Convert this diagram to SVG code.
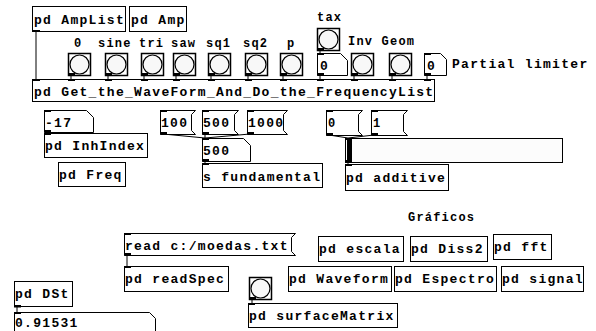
<svg xmlns="http://www.w3.org/2000/svg" width="596" height="331" viewBox="0 0 596 331">
<style>
.b{fill:#fff;stroke:#000;stroke-width:1}
.t{font-family:"Liberation Mono","DejaVu Sans Mono",monospace;font-weight:bold;font-size:13px;letter-spacing:1.3px;fill:#000}
.l{font-family:"Liberation Mono","DejaVu Sans Mono",monospace;font-weight:bold;font-size:12px;letter-spacing:1.2px;fill:#000}
.io{fill:#000}
.c{stroke:#000;stroke-width:1;fill:none}
.bg{fill:#fff;stroke:#000;stroke-width:1.5}
.bc{fill:#f8f8f8;stroke:#000;stroke-width:1.2}
</style>
<rect width="596" height="331" fill="#fff"/>
<g id="connectors">
<line class="c" x1="36" y1="32" x2="36" y2="79"/>
<line class="c" x1="71" y1="75" x2="71" y2="79"/>
<line class="c" x1="108" y1="75" x2="108" y2="79"/>
<line class="c" x1="144" y1="75" x2="144" y2="79"/>
<line class="c" x1="176" y1="75" x2="176" y2="79"/>
<line class="c" x1="211" y1="75" x2="211" y2="79"/>
<line class="c" x1="248" y1="75" x2="248" y2="79"/>
<line class="c" x1="283" y1="75" x2="283" y2="79"/>
<line class="c" x1="320" y1="50" x2="320" y2="53"/>
<line class="c" x1="320" y1="75" x2="320" y2="79"/>
<line class="c" x1="354" y1="75" x2="354" y2="79"/>
<line class="c" x1="392" y1="75" x2="392" y2="79"/>
<line class="c" x1="427" y1="75" x2="427" y2="79"/>
<line class="c" x1="47" y1="132" x2="47" y2="133"/>
<line class="c" x1="163" y1="134" x2="205" y2="138"/>
<line class="c" x1="205" y1="134" x2="205" y2="138"/>
<line class="c" x1="250" y1="134" x2="205" y2="138"/>
<line class="c" x1="205" y1="161" x2="205" y2="163"/>
<line class="c" x1="329" y1="135" x2="348" y2="138"/>
<line class="c" x1="374" y1="135" x2="348" y2="138"/>
<line class="c" x1="348" y1="162" x2="348" y2="164"/>
<line class="c" x1="127" y1="256" x2="127" y2="266"/>
<line class="c" x1="252" y1="299" x2="252" y2="303"/>
<line class="c" x1="17" y1="307" x2="17" y2="312"/>
</g>
<g id="ampList"><rect class="b" x="32.5" y="6.5" width="93" height="25"/><rect class="io" x="33" y="30" width="7" height="2"/><text class="t" x="34" y="24">pd AmpList</text></g>
<g id="amp"><rect class="b" x="129.5" y="6.5" width="57" height="25"/><text class="t" x="131" y="24">pd Amp</text></g>
<g id="labels">
<text class="l" x="74" y="47">0</text>
<text class="l" x="98" y="47">sine</text>
<text class="l" x="139" y="47">tri</text>
<text class="l" x="171" y="47">saw</text>
<text class="l" x="206" y="47">sq1</text>
<text class="l" x="243" y="47">sq2</text>
<text class="l" x="287" y="47">p</text>
<text class="l" x="317" y="21">tax</text>
<text class="l" x="348" y="45">Inv Geom</text>
<text class="t" x="452" y="68">Partial limiter</text>
<text class="l" x="408" y="221">Gráficos</text>
</g>
<g id="bang0"><rect class="bg" x="68.5" y="53.5" width="22" height="22"/><circle class="bc" cx="79.5" cy="64.5" r="9.5"/><rect class="io" x="68" y="73" width="7" height="2.5"/></g>
<g id="bangSine"><rect class="bg" x="105.5" y="53.5" width="22" height="22"/><circle class="bc" cx="116.5" cy="64.5" r="9.5"/><rect class="io" x="105" y="73" width="7" height="2.5"/></g>
<g id="bangTri"><rect class="bg" x="141.5" y="53.5" width="22" height="22"/><circle class="bc" cx="152.5" cy="64.5" r="9.5"/><rect class="io" x="141" y="73" width="7" height="2.5"/></g>
<g id="bangSaw"><rect class="bg" x="173.5" y="53.5" width="22" height="22"/><circle class="bc" cx="184.5" cy="64.5" r="9.5"/><rect class="io" x="173" y="73" width="7" height="2.5"/></g>
<g id="bangSq1"><rect class="bg" x="208.5" y="53.5" width="22" height="22"/><circle class="bc" cx="219.5" cy="64.5" r="9.5"/><rect class="io" x="208" y="73" width="7" height="2.5"/></g>
<g id="bangSq2"><rect class="bg" x="245.5" y="53.5" width="22" height="22"/><circle class="bc" cx="256.5" cy="64.5" r="9.5"/><rect class="io" x="245" y="73" width="7" height="2.5"/></g>
<g id="bangP"><rect class="bg" x="280.5" y="53.5" width="22" height="22"/><circle class="bc" cx="291.5" cy="64.5" r="9.5"/><rect class="io" x="280" y="73" width="7" height="2.5"/></g>
<g id="bangTax"><rect class="bg" x="317.5" y="28.5" width="22" height="22"/><circle class="bc" cx="328.5" cy="39.5" r="9.5"/><rect class="io" x="317" y="48" width="7" height="2.5"/></g>
<g id="numTax"><path class="b" d="M317.5 53.5H340.5L347.5 60.5V75.5H317.5Z"/><rect class="io" x="317" y="53" width="7" height="2"/><rect class="io" x="317" y="73" width="7" height="2.5"/><text class="t" x="320" y="70">0</text></g>
<g id="bangInv"><rect class="bg" x="351.5" y="53.5" width="22" height="22"/><circle class="bc" cx="362.5" cy="64.5" r="9.5"/><rect class="io" x="351" y="73" width="7" height="2.5"/></g>
<g id="bangGeom"><rect class="bg" x="389.5" y="53.5" width="22" height="22"/><circle class="bc" cx="400.5" cy="64.5" r="9.5"/><rect class="io" x="389" y="73" width="7" height="2.5"/></g>
<g id="numPartial"><path class="b" d="M424.5 53.5H440.5L446.5 59.5V75.5H424.5Z"/><rect class="io" x="424" y="53" width="7" height="2"/><rect class="io" x="424" y="73" width="7" height="2.5"/><text class="t" x="427" y="70">0</text></g>
<g id="getWave"><rect class="b" x="32.5" y="79.5" width="402" height="22"/>
<rect class="io" x="33" y="79" width="7" height="2"/><rect class="io" x="68" y="79" width="7" height="2"/><rect class="io" x="105" y="79" width="7" height="2"/><rect class="io" x="141" y="79" width="7" height="2"/><rect class="io" x="173" y="79" width="7" height="2"/><rect class="io" x="208" y="79" width="7" height="2"/><rect class="io" x="245" y="79" width="7" height="2"/><rect class="io" x="280" y="79" width="7" height="2"/><rect class="io" x="317" y="79" width="7" height="2"/><rect class="io" x="351" y="79" width="7" height="2"/><rect class="io" x="389" y="79" width="7" height="2"/><rect class="io" x="424" y="79" width="7" height="2"/>
<text class="t" x="34" y="96">pd Get_the_WaveForm_And_Do_the_FrequencyList</text></g>
<g id="num17"><path class="b" d="M44.5 110.5H86.5L93.5 117.5V132.5H44.5Z"/><rect class="io" x="44" y="110" width="7" height="2"/><rect class="io" x="44" y="130" width="7" height="2.5"/><text class="t" x="45" y="127">-17</text></g>
<g id="inhIndex"><rect class="b" x="44.5" y="133.5" width="103" height="24"/><rect class="io" x="44" y="133" width="7" height="2"/><text class="t" x="45" y="150">pd InhIndex</text></g>
<g id="freq"><rect class="b" x="58.5" y="162.5" width="67" height="24"/><text class="t" x="59" y="179">pd Freq</text></g>
<g id="msg100"><path class="b" d="M160.5 110.5H195.5L191.5 114.5V130.5L195.5 134.5H160.5Z"/><rect class="io" x="160" y="110" width="7" height="2"/><rect class="io" x="160" y="132" width="7" height="2.5"/><text class="t" x="161" y="127">100</text></g>
<g id="msg500"><path class="b" d="M202.5 110.5H238.5L234.5 114.5V130.5L238.5 134.5H202.5Z"/><rect class="io" x="202" y="110" width="7" height="2"/><rect class="io" x="202" y="132" width="7" height="2.5"/><text class="t" x="203" y="127">500</text></g>
<g id="msg1000"><path class="b" d="M247.5 110.5H287.5L283.5 114.5V130.5L287.5 134.5H247.5Z"/><rect class="io" x="247" y="110" width="7" height="2"/><rect class="io" x="247" y="132" width="7" height="2.5"/><text class="t" x="248" y="127">1000</text></g>
<g id="num500"><path class="b" d="M202.5 138.5H243.5L250.5 145.5V161.5H202.5Z"/><rect class="io" x="202" y="138" width="7" height="2"/><rect class="io" x="202" y="159" width="7" height="2.5"/><text class="t" x="203" y="155">500</text></g>
<g id="sFund"><rect class="b" x="202.5" y="163.5" width="120" height="24"/><rect class="io" x="202" y="163" width="7" height="2"/><text class="t" x="203" y="181">s fundamental</text></g>
<g id="msg0"><path class="b" d="M326.5 110.5H362.5L358.5 114.5V131.5L362.5 135.5H326.5Z"/><rect class="io" x="326" y="110" width="7" height="2"/><rect class="io" x="326" y="133" width="7" height="2.5"/><text class="l" x="328" y="127">0</text></g>
<g id="msg1"><path class="b" d="M371.5 110.5H407.5L403.5 114.5V131.5L407.5 135.5H371.5Z"/><rect class="io" x="371" y="110" width="7" height="2"/><rect class="io" x="371" y="133" width="7" height="2.5"/><text class="l" x="373" y="127">1</text></g>
<g id="slider"><rect x="345.5" y="138.5" width="217" height="24" fill="#fcfcfc" stroke="#000" stroke-width="1"/><rect class="io" x="345" y="138" width="7" height="2"/><rect class="io" x="345" y="160" width="7" height="2.5"/><rect class="io" x="347" y="140" width="5" height="21"/></g>
<g id="additive"><rect class="b" x="345.5" y="164.5" width="103" height="26"/><rect class="io" x="345" y="164" width="7" height="2"/><text class="t" x="346" y="182">pd additive</text></g>
<g id="msgRead"><path class="b" d="M124.5 233.5H295.5L291.5 237.5V251.5L295.5 255.5H124.5Z"/><rect class="io" x="124" y="233" width="7" height="2"/><rect class="io" x="124" y="253" width="7" height="2.5"/><text class="t" x="125" y="250">read c:/moedas.txt</text></g>
<g id="readSpec"><rect class="b" x="124.5" y="266.5" width="104" height="25"/><rect class="io" x="124" y="266" width="7" height="2"/><text class="t" x="125" y="283">pd readSpec</text></g>
<g id="escala"><rect class="b" x="318.5" y="236.5" width="85" height="25"/><text class="t" x="319" y="253">pd escala</text></g>
<g id="diss2"><rect class="b" x="410.5" y="236.5" width="77" height="25"/><text class="t" x="411" y="253">pd Diss2</text></g>
<g id="fft"><rect class="b" x="493.5" y="234.5" width="58" height="25"/><text class="t" x="494" y="251">pd fft</text></g>
<g id="waveform"><rect class="b" x="288.5" y="266.5" width="103" height="25"/><text class="t" x="289" y="283">pd Waveform</text></g>
<g id="espectro"><rect class="b" x="394.5" y="266.5" width="102" height="25"/><text class="t" x="395" y="283">pd Espectro</text></g>
<g id="signal"><rect class="b" x="501.5" y="266.5" width="82" height="25"/><text class="t" x="502" y="283">pd signal</text></g>
<g id="bangSurf"><rect class="bg" x="249.5" y="277.5" width="22" height="22"/><circle class="bc" cx="260.5" cy="288.5" r="9.5"/><rect class="io" x="249" y="297" width="7" height="2.5"/></g>
<g id="surfaceMatrix"><rect class="b" x="248.5" y="303.5" width="149" height="24"/><rect class="io" x="248" y="303" width="7" height="2"/><text class="t" x="249" y="320">pd surfaceMatrix</text></g>
<g id="dst"><rect class="b" x="14.5" y="281.5" width="58" height="25"/><rect class="io" x="14" y="305" width="7" height="2.5"/><text class="t" x="15" y="298">pd DSt</text></g>
<g id="numDst"><path class="b" d="M14.5 312.5H149.5L155.5 318.5V340H14.5Z"/><rect class="io" x="14" y="312" width="7" height="2"/><text class="t" x="15" y="327">0.91531</text></g>
</svg>
